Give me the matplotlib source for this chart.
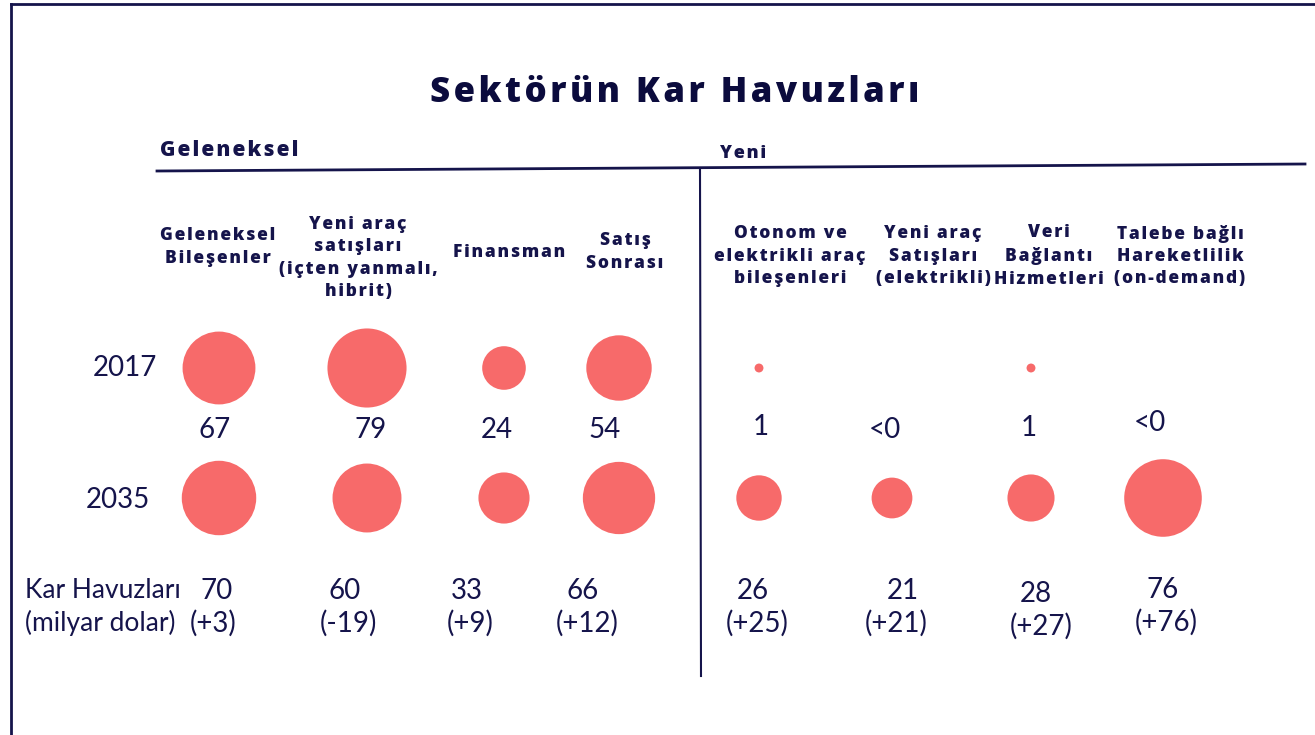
import numpy as np
import matplotlib.pyplot as plt

# categories (multi-line headers as in the slide)
categories = [
    "Geleneksel\nBileşenler",
    "Yeni araç\nsatışları\n(içten yanmalı,\nhibrit)",
    "Finansman",
    "Satış\nSonrası",
    "Otonom ve\nelektrikli araç\nbileşenleri",
    "Yeni araç\nSatışları\n(elektrikli)",
    "Veri\nBağlantı\nHizmetleri",
    "Talebe bağlı\nHareketlilik\n(on-demand)",
]
years = ["2017", "2035"]

# profit pools, billion USD (0 means "<0", no bubble)
pool_2017 = [67, 79, 24, 54, 1, 0, 1, 0]
pool_2017_labels = ["67", "79", "24", "54", "1", "<0", "1", "<0"]
pool_2035 = [70, 60, 33, 66, 26, 21, 28, 76]
change_labels = ["(+3)", "(-19)", "(+9)", "(+12)", "(+25)", "(+21)", "(+27)", "(+76)"]

NAVY = "#15144b"
RED = "#f76a6a"
NUMFONT = ["Lato", "DejaVu Sans"]
BOLDFONT = ["Open Sans", "DejaVu Sans"]

# layout (pixel coords of the 1315x735 canvas)
bubble_x = [219, 367, 504, 619, 759, 892, 1031, 1163]
header_x = [218, 358, 509, 625, 790, 933, 1049, 1180]
header_y = [247, 258, 252, 252, 256, 256, 256, 256]
v17_x = [215, 371, 497, 605, 761, 885, 1029, 1150]
v17_y = [430, 430, 430, 430, 427, 430, 428, 423]
v35_x = [217, 345, 467, 583, 753, 903, 1036, 1163]
ch_x = [213, 348, 470, 587, 757, 896, 1041, 1166]
v35_dy = [0, 0, 0, 0, 0, 0, 3, -1]
row_y = [368, 498]
px_per_sqrt = 8.9  # bubble diameter in px per sqrt(value)


# letter spacing like the slide: put hair spaces between characters
def track(s, n=1):
    sp = "\u200a" * n
    return "\n".join(sp.join(line) for line in s.split("\n"))


fig = plt.figure(figsize=(13.15, 7.35), dpi=100)
ax = fig.add_axes([0, 0, 1, 1])
ax.set_xlim(0, 1315)
ax.set_ylim(735, 0)
ax.axis("off")

# frame lines
ax.plot([11, 1315], [4, 4], color=NAVY, lw=2)
ax.plot([11, 11], [4, 735], color=NAVY, lw=2)
ax.plot([157, 1305], [171, 164], color=NAVY, lw=2)
ax.plot([700, 701], [170, 676], color=NAVY, lw=1.5)

ax.text(675, 93, track("Sektörün Kar Havuzları", 1), ha="center", va="center",
        fontsize=25, fontweight=800, color="#0b0b3d", family=BOLDFONT)
ax.text(160, 150, track("Geleneksel"), ha="left", va="center",
        fontsize=15, fontweight=800, color=NAVY, family=BOLDFONT)
ax.text(720, 153, track("Yeni"), ha="left", va="center",
        fontsize=13, fontweight=800, color=NAVY, family=BOLDFONT)

for x, y, cat in zip(header_x, header_y, categories):
    ax.text(x, y, track(cat), ha="center", va="center", fontsize=12.5,
            fontweight=800, color=NAVY, linespacing=1.42, family=BOLDFONT)

# bubbles: area proportional to value
scale = (px_per_sqrt * 72 / fig.dpi) ** 2
for y, vals in zip(row_y, [pool_2017, pool_2035]):
    v = np.array(vals, dtype=float)
    ax.scatter(bubble_x, [y] * len(v), s=v * scale, color=RED,
               edgecolors="none", zorder=3)

num_kw = dict(ha="center", va="center", fontsize=20, color=NAVY, family=NUMFONT)
ax.text(125, row_y[0], years[0], **num_kw)
ax.text(118, row_y[1] + 2, years[1], **num_kw)

for x, y, lab in zip(v17_x, v17_y, pool_2017_labels):
    ax.text(x, y, lab, **num_kw)

ax.text(25, 591, "Kar Havuzları", ha="left", va="center", fontsize=19,
        color=NAVY, family=NUMFONT)
ax.text(25, 623, "(milyar dolar)", ha="left", va="center", fontsize=19,
        color=NAVY, family=NUMFONT)
for x, cx, dy, val, ch in zip(v35_x, ch_x, v35_dy, pool_2035, change_labels):
    ax.text(x, 591 + dy, str(val), **num_kw)
    ax.text(cx, 623 + dy, ch, **num_kw)

fig.savefig("out.png", dpi=100, facecolor="white")
